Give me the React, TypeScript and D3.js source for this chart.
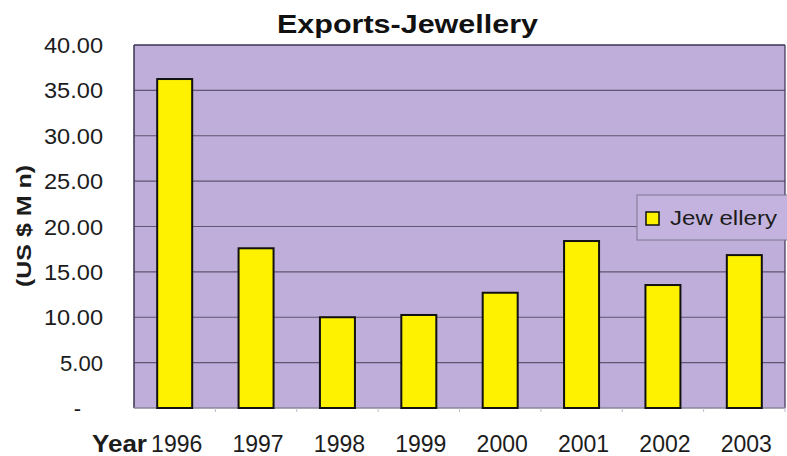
import React from "react";
import * as d3 from "d3";

const years = ["1996", "1997", "1998", "1999", "2000", "2001", "2002", "2003"];
const jewellery = [36.25, 17.6, 10.0, 10.25, 12.7, 18.4, 13.55, 16.85];
const yTicks = [0, 5, 10, 15, 20, 25, 30, 35, 40];
const yTickLabels = ["-", "5.00", "10.00", "15.00", "20.00", "25.00", "30.00", "35.00", "40.00"];

const W = 787;
const H = 456;
const plot = { left: 134, right: 785, top: 45, bottom: 408 };

export default function App() {
  const x = d3.scaleBand<string>().domain(years).range([plot.left, plot.right]).paddingInner(0.57).paddingOuter(0.285);
  const y = d3.scaleLinear().domain([0, 40]).range([plot.bottom, plot.top]);
  const step = (plot.right - plot.left) / years.length;
  const font = "Arial, 'Liberation Sans', sans-serif";

  return (
    <svg width={W} height={H} style={{ position: "absolute", left: 0, top: 0, background: "#fff" }} fontFamily={font}>
      <rect x={plot.left} y={plot.top} width={plot.right - plot.left} height={plot.bottom - plot.top} fill="#BFADDA" />
      {yTicks.filter((t) => t > 0 && t < 40).map((t) => (
        <line key={t} x1={plot.left} x2={plot.right} y1={y(t)} y2={y(t)} stroke="#5f5672" strokeWidth={1.2} />
      ))}
      {/* border */}
      <line x1={plot.left} x2={plot.right} y1={plot.top} y2={plot.top} stroke="#3b3350" strokeWidth={1.5} />
      <line x1={plot.left} x2={plot.left} y1={plot.top} y2={plot.bottom} stroke="#3b3350" strokeWidth={1.5} />
      <line x1={plot.right} x2={plot.right} y1={plot.top} y2={plot.bottom} stroke="#3b3350" strokeWidth={1.2} />
      <line x1={plot.left} x2={plot.right} y1={plot.bottom} y2={plot.bottom} stroke="#8a8798" strokeWidth={1.5} />
      {years.map((_, i) => (
        <line key={i} x1={plot.left + step * (i + 1)} x2={plot.left + step * (i + 1)} y1={plot.bottom} y2={plot.bottom + 4} stroke="#b8bccc" strokeWidth={1} />
      ))}
      {/* bars */}
      {years.map((yr, i) => (
        <rect key={yr} x={x(yr)!} y={y(jewellery[i])} width={x.bandwidth()} height={y(0) - y(jewellery[i])}
          fill="#FFF200" stroke="#111" strokeWidth={2} />
      ))}
      {/* y tick labels */}
      {yTicks.map((t, i) => {
        const lbl = yTickLabels[i];
        const len = lbl.length === 5 ? 59 : lbl.length === 4 ? 43 : undefined;
        return (
          <text key={t} x={t === 0 ? 81 : 103} y={y(t) + 8} textAnchor="end" fontSize={22} fill="#1c1c1c"
            textLength={len} lengthAdjust="spacingAndGlyphs">
            {lbl}
          </text>
        );
      })}
      {/* x labels */}
      {years.map((yr) => (
        <text key={yr} x={x(yr)! + x.bandwidth() / 2 + 2} y={452} textAnchor="middle" fontSize={23} fill="#1c1c1c">{yr}</text>
      ))}
      <text x={92} y={452} fontSize={23} fontWeight="bold" fill="#1c1c1c" textLength={55} lengthAdjust="spacingAndGlyphs">Year</text>
      {/* title */}
      <text x={277} y={33} fontSize={25} fontWeight="bold" fill="#111" textLength={261} lengthAdjust="spacingAndGlyphs">Exports-Jewellery</text>
      {/* y axis title */}
      <text transform="translate(31,287) rotate(-90)" fontSize={20} fontWeight="bold" fill="#1c1c1c" textLength={122} lengthAdjust="spacingAndGlyphs">(US $ M n)</text>
      {/* legend */}
      <rect x={637} y={195} width={152} height={45} fill="#C3B3DE" stroke="#7d7890" strokeWidth={1} />
      <rect x={646} y={212} width={13} height={13} fill="#FFF200" stroke="#111" strokeWidth={1.5} />
      <text x={670} y={225} fontSize={21} fill="#1c1c1c" textLength={107} lengthAdjust="spacingAndGlyphs">Jew ellery</text>
    </svg>
  );
}
